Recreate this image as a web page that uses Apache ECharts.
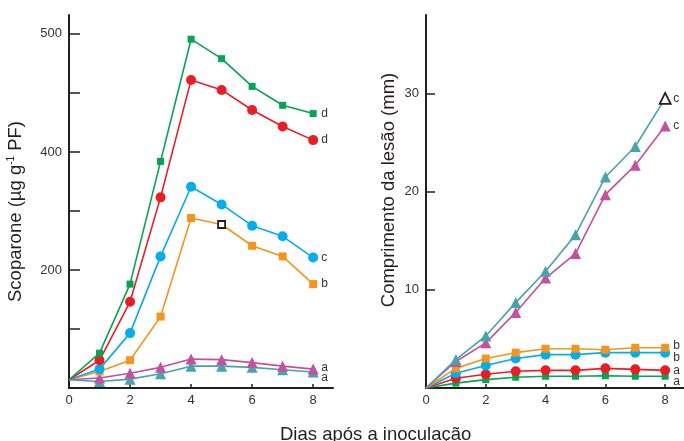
<!DOCTYPE html>
<html>
<head>
<meta charset="utf-8">
<script src="https://cdn.jsdelivr.net/npm/echarts@6/dist/echarts.min.js"></script>
<style>
  html, body { margin: 0; padding: 0; background: #fff; }
  #chart { width: 684px; height: 441px; }
</style>
</head>
<body>
<div id="chart"></div>
<script>
// dias após a inoculação
const days = [0, 1, 2, 3, 4, 5, 6, 7, 8]

// painel esquerdo: escoparona (unidades do eixo desenhado, 100 por marca)
const scopGreen = [14, 59, 176, 384, 591, 558, 511, 479, 465]
const scopRed = [14, 47, 146, 323, 522, 505, 471, 443, 420]
const scopBlue = [14, 32, 93, 223, 341, 311, 275, 257, 221]
const scopOrange = [14, 28, 47, 121, 288, 277, 241, 223, 176]
const scopMagenta = [14, 17, 25, 35, 49, 48, 43, 37, 32]
const scopTeal = [14, 11, 15, 24, 37, 37, 35, 31, 27]
const scopLetters = { green: 'd', red: 'd', blue: 'c', orange: 'b', magenta: 'a', teal: 'a' }
const leftTickValues = [200, 400, 600]
const leftTickLabels = ['200', '400', '500']

// painel direito: comprimento da lesão (mm)
const lesTeal = [0, 2.9, 5.3, 8.7, 11.9, 15.6, 21.5, 24.6, 29.5]
const lesMagenta = [0, 2.7, 4.6, 7.7, 11.2, 13.7, 19.7, 22.7, 26.7]
const lesOrange = [0, 2.0, 3.0, 3.6, 4.0, 4.0, 3.9, 4.1, 4.1]
const lesBlue = [0, 1.5, 2.3, 3.0, 3.4, 3.4, 3.6, 3.6, 3.6]
const lesRed = [0, 1.0, 1.4, 1.7, 1.8, 1.8, 2.0, 1.9, 1.8]
const lesGreen = [0, 0.5, 0.85, 1.1, 1.2, 1.2, 1.25, 1.2, 1.2]
const lesLetters = { teal: 'c', magenta: 'c', orange: 'b', blue: 'b', red: 'a', green: 'a' }
const rightTickValues = [10, 20, 30]

const colors = {
  green: '#00a651',
  red: '#ed1c24',
  blue: '#00aeef',
  orange: '#f7941d',
  magenta: '#c4509f',
  teal: '#45a5ae',
}
const symbols = {
  green: ['rect', 7],
  red: ['circle', 10],
  blue: ['circle', 10],
  orange: ['rect', 8],
  magenta: ['triangle', 11],
  teal: ['triangle', 11],
}

// dia 0 sem marcador; um ponto com marcador vazio preto (destaque do original)
function pairs(vals, hollowIdx, hollowSymbol, hollowSize) {
  return vals.map((v, i) => {
    if (i === 0) return { value: [days[i], v], symbol: 'none' }
    if (i === hollowIdx) {
      return {
        value: [days[i], v],
        symbol: hollowSymbol,
        symbolSize: hollowSize,
        itemStyle: { color: '#fff', borderColor: '#231f20', borderWidth: 1.8 },
      }
    }
    return [days[i], v]
  })
}

function makeSeries(key, vals, idx, letter, labelDy, hollowIdx, hollowSymbol, hollowSize) {
  return {
    type: 'line',
    xAxisIndex: idx,
    yAxisIndex: idx,
    data: pairs(vals, hollowIdx, hollowSymbol, hollowSize),
    symbol: symbols[key][0],
    symbolSize: symbols[key][1],
    showAllSymbol: true,
    color: colors[key],
    lineStyle: { width: 1.6, color: colors[key] },
    itemStyle: { color: colors[key] },
    endLabel: {
      show: true,
      formatter: letter,
      distance: 8,
      offset: [0, labelDy || 0],
      color: '#333',
      fontSize: 12,
      fontFamily: 'Liberation Sans',
    },
    animation: false,
  }
}

const axisLine = { show: true, onZero: false, lineStyle: { color: '#231f20', width: 2 } }
const tickLabel = { color: '#333', fontSize: 13, fontFamily: 'Liberation Sans' }

function xAx(idx) {
  return {
    type: 'value',
    gridIndex: idx,
    min: 0,
    max: idx === 0 ? 8.65 : 8.63,
    axisLine: axisLine,
    axisTick: { show: true, inside: true, length: 4, customValues: [2, 4, 6, 8], lineStyle: { color: '#231f20', width: 1.5 } },
    axisLabel: { ...tickLabel, margin: 6, customValues: [0, 2, 4, 6, 8] },
    splitLine: { show: false },
  }
}

const options = {
  backgroundColor: '#fff',
  title: {
    text: 'Dias após a inoculação',
    left: 275,
    top: 420,
    textStyle: { fontSize: 18.5, fontWeight: 'normal', color: '#231f20', fontFamily: 'Liberation Sans' },
  },
  grid: [
    { left: 69, top: 15, width: 264, height: 373 },
    { left: 426, top: 15, width: 258, height: 373 },
  ],
  xAxis: [xAx(0), xAx(1)],
  yAxis: [
    {
      type: 'value',
      gridIndex: 0,
      min: 0,
      max: 632,
      name: 'Scoparone (µg g{sup|-1} PF)',
      nameLocation: 'middle',
      nameGap: 43,
      nameTextStyle: {
        fontSize: 18.5,
        color: '#231f20',
        fontFamily: 'Liberation Sans',
        padding: [0, 20, 0, 0],
        rich: { sup: { fontSize: 10, color: '#231f20', padding: [0, 0, 10, 0], fontFamily: 'Liberation Sans' } },
      },
      axisLine: axisLine,
      axisTick: { show: true, inside: true, length: 11, customValues: [100, 200, 300, 400, 500, 600], lineStyle: { color: '#231f20', width: 1.5 } },
      axisLabel: {
        ...tickLabel,
        margin: 7,
        customValues: leftTickValues,
        formatter: (v) => leftTickLabels[leftTickValues.indexOf(v)] || '',
      },
      splitLine: { show: false },
    },
    {
      type: 'value',
      gridIndex: 1,
      min: 0,
      max: 38,
      name: 'Comprimento da lesão (mm)',
      nameLocation: 'middle',
      nameGap: 28,
      nameTextStyle: {
        fontSize: 18.5,
        color: '#231f20',
        fontFamily: 'Liberation Sans',
        padding: [0, 0, 0, 23],
      },
      axisLine: axisLine,
      axisTick: { show: true, inside: true, length: 9, customValues: rightTickValues, lineStyle: { color: '#231f20', width: 1.5 } },
      axisLabel: { ...tickLabel, margin: 7, customValues: rightTickValues },
      splitLine: { show: false },
    },
  ],
  series: [
    makeSeries('teal', scopTeal, 0, scopLetters.teal, 6),
    makeSeries('magenta', scopMagenta, 0, scopLetters.magenta, -1),
    makeSeries('orange', scopOrange, 0, scopLetters.orange, 0, 5, 'rect', 7),
    makeSeries('blue', scopBlue, 0, scopLetters.blue),
    makeSeries('red', scopRed, 0, scopLetters.red),
    makeSeries('green', scopGreen, 0, scopLetters.green),

    makeSeries('green', lesGreen, 1, lesLetters.green, 5),
    makeSeries('red', lesRed, 1, lesLetters.red, 0),
    makeSeries('blue', lesBlue, 1, lesLetters.blue, 5),
    makeSeries('orange', lesOrange, 1, lesLetters.orange, -2),
    makeSeries('magenta', lesMagenta, 1, lesLetters.magenta),
    makeSeries('teal', lesTeal, 1, lesLetters.teal, 0, 8, 'triangle', 11),
  ],
}

const dom = document.getElementById('chart')
const chart = echarts.init(dom)
chart.setOption(options)
</script>
</body>
</html>
